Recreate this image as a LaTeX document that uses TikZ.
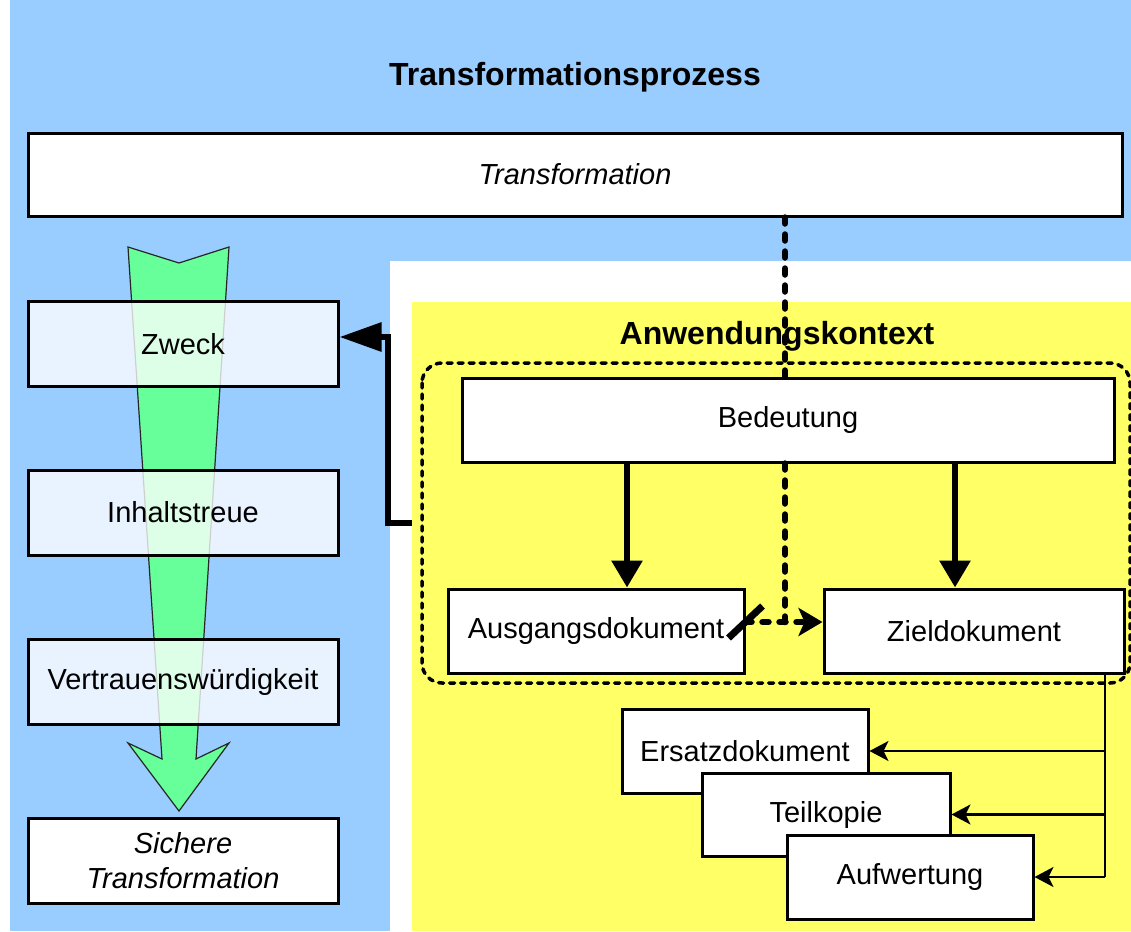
\documentclass[tikz,border=0pt]{standalone}
\usepackage{fontspec}
\setmainfont{Liberation Sans}
\usetikzlibrary{arrows.meta,calc}
\definecolor{bgblue}{HTML}{99CCFF}
\definecolor{bgyellow}{HTML}{FFFF66}
\definecolor{arrgreen}{HTML}{66FF99}
\tikzset{
  bx/.style={draw=black, line width=3pt, fill=white, inner sep=0pt, align=center,
    font=\fontsize{29}{35}\selectfont},
  lbx/.style={bx, fill opacity=0.78, text opacity=1, minimum width=310pt, minimum height=85pt},
  ttl/.style={font=\fontsize{32}{38}\selectfont\bfseries},
  thickarr/.style={line width=6pt, -{Triangle[length=27pt,width=30pt]}},
  elbowarr/.style={line width=6pt, line join=miter, -{Triangle[length=42pt,width=28pt]}},
  dthick/.style={line width=6.5pt, dash pattern=on 6pt off 11pt, line cap=round},
  dthickarr/.style={dthick, -{Stealth[length=24pt,width=28pt,inset=6pt]}},
  ctxdash/.style={line width=3.5pt, dash pattern=on 5pt off 6pt, line cap=round},
  thinarr/.style={line width=2.5pt, -{Stealth[length=19pt,width=20pt,inset=5pt]}},
  thinline/.style={line width=2.5pt}
}
\begin{document}
\begin{tikzpicture}[x=1pt,y=-1pt]
\useasboundingbox (0,0) rectangle (1131,931);
% backgrounds
\fill[white] (0,0) rectangle (1131,931);
\fill[bgblue] (10,0) rectangle (1131,931);
\fill[white] (390,261) rectangle (1131,931);
\fill[bgyellow] (412,302) rectangle (1131,931);

% titles
\node[ttl] (title) at (575,77) {Transformationsprozess};
\node[ttl] (ctxtitle) at (777,336) {Anwendungskontext};

% top box
\node[bx, minimum width=1094pt, minimum height=83pt] (trans) at (575,174.5) {\itshape Transformation};

% green arrow
\draw[fill=arrgreen, draw=black!85, line width=1.2pt, line join=miter]
  (128,247) -- (179,263) -- (229,247) -- (196,759) -- (229,743) -- (179,811)
  -- (128,743) -- (162,759) -- cycle;

% left boxes
\node[lbx] (zweck) at (183,344) {Zweck};
\node[lbx] (inhalt) at (183,512.5) {Inhaltstreue};
\node[lbx] (vertrauen) at (183,681.5) {Vertrauenswürdigkeit};
\node[bx, minimum width=310pt, minimum height=85pt] (sichere) at (183,860.5) {\itshape Sichere\\\itshape Transformation};

% context dashed rounded rectangle
\draw[ctxdash, rounded corners=20pt] (422,363) rectangle (1130,683);

% right boxes
\node[bx, minimum width=652pt, minimum height=84pt] (bed) at (788,420) {Bedeutung};
\node[bx, minimum width=296pt, minimum height=84pt] (ausgang) at (596,631) {Ausgangsdokument};
\node[bx, minimum width=300pt, minimum height=84pt] (ziel) at (974,631) {Zieldokument};
\node[bx, minimum width=246pt, minimum height=84pt] (ersatz) at (745,751) {Ersatzdokument};
\node[bx, minimum width=248pt, minimum height=83pt] (teil) at (826,814.5) {Teilkopie};
\node[bx, minimum width=246pt, minimum height=84pt] (auf) at (910,877) {Aufwertung};

% coordinates
\coordinate (xd) at (785,622);
\coordinate (ctxl) at (412,523);
\coordinate (rr) at (1105,877);

% dashed from Transformation to Bedeutung
\draw[dthick] (trans.south -| xd) -- (bed.north -| xd);
% dashed from Bedeutung down to junction
\draw[dthick] (bed.south -| xd) -- (xd);
% dashed arrow Ausgangsdokument -> Zieldokument
\draw[dthickarr] (ausgang.east |- xd) -- (ziel.west |- xd);
% slash
\draw[line width=7pt] ($(ausgang.east |- xd)+(-17,16)$) -- ($(ausgang.east |- xd)+(17,-16)$);

% thick arrows
\draw[thickarr] ([xshift=31pt]ausgang.north |- bed.south) -- ([xshift=31pt]ausgang.north);
\draw[thickarr] ([xshift=-19pt]ziel.north |- bed.south) -- ([xshift=-19pt]ziel.north);

% elbow to Zweck
\draw[elbowarr] (ctxl) -- ++(-24,0) |- ([yshift=7pt]zweck.east);

% right distribution
\draw[thinline] (ziel.south -| rr) -- (rr);
\draw[thinarr] (rr |- ersatz.east) -- (ersatz.east);
\draw[thinarr] (rr |- teil.east) -- (teil.east);
\draw[thinarr] (rr) -- (auf.east);
\end{tikzpicture}
\end{document}
